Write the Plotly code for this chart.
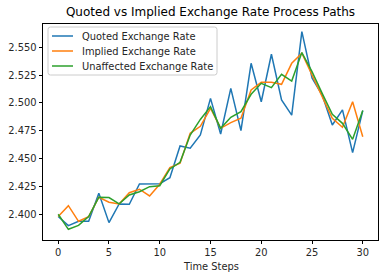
import plotly.graph_objects as go

steps = list(range(31))
quoted = [2.398, 2.3898, 2.3937, 2.3937, 2.4189, 2.3925, 2.4093, 2.409, 2.4272, 2.4275,
          2.4275, 2.4329, 2.4614, 2.4593, 2.4712, 2.5041, 2.4721, 2.5131, 2.4751, 2.5356,
          2.5011, 2.5437, 2.5027, 2.489, 2.564, 2.5224, 2.5071, 2.4802, 2.4937, 2.4554, 2.4931]
implied = [2.398, 2.4077, 2.3937, 2.3979, 2.4153, 2.4108, 2.4093, 2.4194, 2.4225, 2.4165,
           2.427, 2.4419, 2.4458, 2.4727, 2.4790, 2.4952, 2.4772, 2.4823, 2.4862, 2.5116,
           2.5185, 2.5185, 2.5167, 2.5356, 2.5446, 2.5253, 2.5056, 2.4862, 2.4781, 2.5011, 2.4697]
unaffected = [2.400, 2.3865, 2.390, 2.398, 2.4153, 2.415, 2.4093, 2.4173, 2.4203, 2.4248,
              2.4257, 2.4407, 2.4467, 2.4712, 2.4852, 2.4967, 2.4772, 2.4871, 2.4922, 2.5078,
              2.5176, 2.5137, 2.5257, 2.5197, 2.5452, 2.5281, 2.5086, 2.4898, 2.4817, 2.4673, 2.4931]
series_names = ["Quoted Exchange Rate", "Implied Exchange Rate", "Unaffected Exchange Rate"]
series_colors = ["#1f77b4", "#ff7f0e", "#2ca02c"]
y_ticks = [2.400, 2.425, 2.450, 2.475, 2.500, 2.525, 2.550]
x_ticks = [0, 5, 10, 15, 20, 25, 30]

FONT = "DejaVu Sans"
W, H = 384, 278
L, R, T, B = 43, 378, 24, 240
PW, PH = R - L, B - T


def px(x):
    return (x - L) / PW


def py(y):
    return (B - y) / PH


fig = go.Figure()
for name, vals, col in zip(series_names, [quoted, implied, unaffected], series_colors):
    fig.add_trace(go.Scatter(x=steps, y=vals, mode="lines", name=name,
                             line=dict(color=col, width=1.5), showlegend=False))

# manual matplotlib-style legend
bx0, bx1, by0, by1, rad = 48, 217, 27, 75, 2.5
path = (f"M {px(bx0 + rad)},{py(by0)} L {px(bx1 - rad)},{py(by0)} "
        f"Q {px(bx1)},{py(by0)} {px(bx1)},{py(by0 + rad)} "
        f"L {px(bx1)},{py(by1 - rad)} Q {px(bx1)},{py(by1)} {px(bx1 - rad)},{py(by1)} "
        f"L {px(bx0 + rad)},{py(by1)} Q {px(bx0)},{py(by1)} {px(bx0)},{py(by1 - rad)} "
        f"L {px(bx0)},{py(by0 + rad)} Q {px(bx0)},{py(by0)} {px(bx0 + rad)},{py(by0)} Z")
shapes = [dict(type="path", xref="paper", yref="paper", path=path,
               fillcolor="rgba(255,255,255,0.8)", line=dict(color="#cccccc", width=1))]
annotations = []
for i, (name, col) in enumerate(zip(series_names, series_colors)):
    yy = 36 + 15 * i
    shapes.append(dict(type="line", xref="paper", yref="paper",
                       x0=px(52), x1=px(73), y0=py(yy), y1=py(yy),
                       line=dict(color=col, width=1.5)))
    annotations.append(dict(text=name, xref="paper", yref="paper", x=px(80), y=py(yy),
                            xanchor="left", yanchor="middle", showarrow=False,
                            font=dict(family=FONT, size=9.9, color="#262626")))
annotations.append(dict(text="Time Steps", xref="paper", yref="paper", x=0.5, y=py(266),
                        xanchor="center", yanchor="middle", showarrow=False,
                        font=dict(family=FONT, size=9.9, color="#262626")))

fig.update_layout(
    width=W, height=H,
    margin=dict(l=L, r=W - R, t=T, b=H - B),
    paper_bgcolor="white", plot_bgcolor="white",
    font=dict(family=FONT, size=9.9, color="#262626"),
    title=dict(text="Quoted vs Implied Exchange Rate Process Paths",
               x=(L + R) / 2 / W, xanchor="center",
               y=1 - 12 / H, yanchor="middle", yref="container",
               font=dict(family=FONT, size=12, color="black")),
    showlegend=False,
    shapes=shapes,
    annotations=annotations,
)
fig.update_xaxes(range=[-1.5, 31.5], tickvals=x_ticks, ticks="outside", ticklen=3.5,
                 tickwidth=0.8, tickcolor="black", showline=True, linecolor="black",
                 linewidth=0.8, mirror=True, showgrid=False, zeroline=False,
                 automargin=False)
fig.update_yaxes(range=[2.3769, 2.5709], tickvals=y_ticks, tickformat=".3f", ticks="outside",
                 ticklen=3.5, tickwidth=0.8, tickcolor="black", showline=True,
                 linecolor="black", linewidth=0.8, mirror=True, showgrid=False,
                 zeroline=False, automargin=False)
fig.write_html("out.html", config={"displayModeBar": False},
               post_script="document.body.style.margin='0';document.body.style.padding='0';")
